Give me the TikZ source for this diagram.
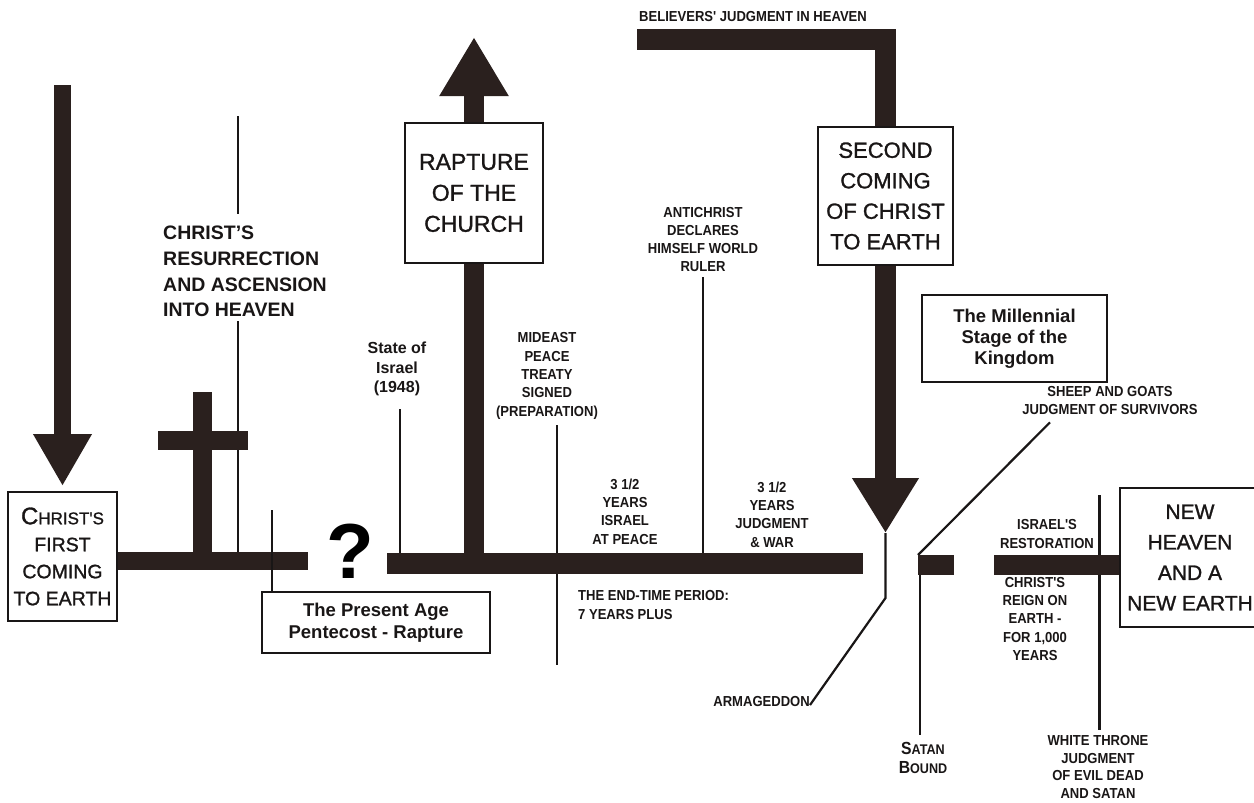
\documentclass[tikz,border=0pt]{standalone}
\usepackage{fontspec}
\setmainfont{Liberation Sans}
\newfontfamily\labfont{Liberation Sans}[FakeStretch=0.9]
\newfontfamily\boxfont{Liberation Sans}[FakeBold=1.2]
\usetikzlibrary{arrows.meta}
\definecolor{barcol}{RGB}{42,32,30}
\definecolor{ink}{RGB}{25,22,22}
\begin{document}
\begin{tikzpicture}[x=1pt,y=-1pt,
  bigbox/.style={draw=ink, line width=1.9pt, fill=white, inner sep=0pt, align=center, text=ink},
  lab/.style={align=center, inner sep=0pt, text=ink, font=\labfont\bfseries\fontsize{14.5}{18.3}\selectfont},
  blab/.style={align=center, inner sep=0pt, text=ink, font=\bfseries\fontsize{16}{19.5}\selectfont},
  thinline/.style={draw=ink, line width=2.2pt},
  barline/.style={draw=barcol, line width=#1},
  barline/.default=20pt
]
\fill[white] (0,0) rectangle (1254,803);
\useasboundingbox (0,0) rectangle (1254,803);

% ---- first coming
\node[bigbox, minimum width=109pt, minimum height=129pt, font=\boxfont\fontsize{19.5}{27}\selectfont] (first) at (62.5,556.5)
  {{\fontsize{24}{24}\selectfont C}{\fontsize{17}{17}\selectfont HRIST'S}\\FIRST\\COMING\\TO EARTH};
\coordinate (a1top) at (62.5,85);
\draw[barline=17pt, -{Triangle[width=55pt,length=52pt]}, shorten >=5pt] (a1top) -- (a1top |- first.north);

% ---- bar 1 and cross
\coordinate (b1e) at (308,561);
\coordinate (crtop) at (202.5,392);
\coordinate (crl) at (158,440.5);
\coordinate (crr) at (248,440.5);

% resurrection
\node[anchor=west, inner sep=0pt, align=left, text=ink, font=\bfseries\fontsize{19.5}{25.7}\selectfont] (resur) at (163,271.5)
  {CHRIST'S\\RESURRECTION\\AND ASCENSION\\INTO HEAVEN};
\coordinate (rtop) at (238,116);
\draw[thinline] (rtop) -- ([yshift=12pt]rtop |- resur.north);
\draw[thinline] ([yshift=-4pt]rtop |- resur.south) -- (rtop |- b1e);

\draw[barline=19pt] (crtop) -- (crtop |- b1e);
\draw[barline=19pt] (crl) -- (crr);
\draw[barline=18pt] (first.east |- b1e) -- (b1e);

% present age
\node[bigbox, minimum width=228pt, minimum height=61pt, font=\bfseries\fontsize{18.5}{22}\selectfont] (present) at (376,622.5)
  {The Present Age\\Pentecost - Rapture};
\coordinate (ptop) at (272,510);
\draw[thinline] (ptop) -- (ptop |- present.north);

\node[inner sep=0pt, text=black, font=\bfseries\fontsize{78}{78}\selectfont] (qm) at (350,551) {?};

% ---- bar 2
\coordinate (b2w) at (387,563.5);
\coordinate (b2e) at (863,563.5);
\coordinate (b2top) at (0,553);

% state of israel
\node[blab] (israel) at (397,369) {State of\\Israel\\(1948)};
\coordinate (istop) at (400,409);
\draw[thinline] (istop) -- (istop |- b2top);

% mideast
\node[lab] (mideast) at (547,376) {MIDEAST\\PEACE\\TREATY\\SIGNED\\(PREPARATION)};
\coordinate (mbot) at (557,665);
\draw[thinline] ([yshift=-6pt]mideast.south -| mbot) -- (mbot);

% antichrist
\node[lab] (anti) at (703,239.5) {ANTICHRIST\\DECLARES\\HIMSELF WORLD\\RULER};
\draw[thinline] ([yshift=-5pt]anti.south) -- (anti.south |- b2top);

\draw[barline=21pt] (b2w) -- (b2e);

% rapture
\node[bigbox, minimum width=138pt, minimum height=140pt, font=\boxfont\fontsize{23}{31}\selectfont] (rapture) at (474,193)
  {RAPTURE\\OF THE\\CHURCH};
\coordinate (rtip) at (474,37);
\draw[barline=20pt] (rapture.south) -- (rapture.south |- b2w);
\draw[barline=20pt, -{Triangle[width=65pt,length=59pt]}] (rapture.north) -- (rtip);

\node[lab] (peace) at (625,511.5) {3 1/2\\YEARS\\ISRAEL\\AT PEACE};
\node[lab] (war) at (772,514.5) {3 1/2\\YEARS\\JUDGMENT\\\& WAR};
\node[lab, anchor=west, align=left] (endtime) at (578,605) {THE END-TIME PERIOD:\\7 YEARS PLUS};

% ---- second coming
\node[lab, anchor=west] (believers) at (639,17) {BELIEVERS' JUDGMENT IN HEAVEN};
\node[bigbox, minimum width=135pt, minimum height=138pt, font=\boxfont\fontsize{22}{30.5}\selectfont] (second) at (885.5,196)
  {SECOND\\COMING\\OF CHRIST\\TO EARTH};
\coordinate (bjw) at (637,39.5);
\draw[barline=21pt, line join=miter] (bjw) -- (bjw -| second.north) -- (second.north);
\coordinate (sctip) at (885.5,533);
\draw[barline=21pt, -{Triangle[width=63pt,length=55pt]}] (second.south) -- (sctip);

% armageddon
\node[lab, anchor=east] (armag) at (810,702) {ARMAGEDDON};
\coordinate (akink) at (885.5,598);
\draw[thinline] (sctip) -- (akink) -- ([yshift=-3pt]armag.east);

% ---- bar 3, sheep and goats, satan bound
\coordinate (b3w) at (918,565);
\coordinate (b3e) at (954,565);
\node[lab, font=\labfont\bfseries\fontsize{14.5}{18}\selectfont] (sheep) at (1110,401) {SHEEP AND GOATS\\JUDGMENT OF SURVIVORS};
\draw[thinline] ([yshift=10pt]b3w) -- ([xshift=-60pt,yshift=-7pt]sheep.south);
\node[lab, font=\labfont\bfseries\fontsize{14}{19}\selectfont] (satan) at (923,757.5)
  {{\fontsize{17.5}{17.5}\selectfont S}ATAN\\{\fontsize{17.5}{17.5}\selectfont B}OUND};
\coordinate (b3sw) at (920,575);
\draw[thinline] (b3sw) -- ([yshift=7pt]b3sw |- satan.north);
\draw[barline=20pt] (b3w) -- (b3e);

% millennial
\node[bigbox, minimum width=185pt, minimum height=87pt, font=\bfseries\fontsize{18.5}{21}\selectfont] (mill) at (1014.5,338.5)
  {The Millennial\\Stage of the\\Kingdom};

% ---- new heaven
\node[bigbox, minimum width=140pt, minimum height=139pt, font=\boxfont\fontsize{21}{30.5}\selectfont] (newh) at (1190,557.5)
  {NEW\\HEAVEN\\AND A\\NEW EARTH};
\coordinate (b4w) at (994,565);
\coordinate (wtop) at (1099.5,495);
\node[lab, font=\labfont\bfseries\fontsize{14.5}{17.6}\selectfont] (white) at (1098,767) {WHITE THRONE\\JUDGMENT\\OF EVIL DEAD\\AND SATAN};
\draw[thinline] (wtop) -- ([yshift=5pt]wtop |- white.north);
\draw[barline=20pt] (b4w) -- (newh.west |- b4w);
\node[lab] (restor) at (1047,534) {ISRAEL'S\\RESTORATION};
\node[lab] (reign) at (1035,619) {CHRIST'S\\REIGN ON\\EARTH -\\FOR 1,000\\YEARS};
\end{tikzpicture}
\end{document}
